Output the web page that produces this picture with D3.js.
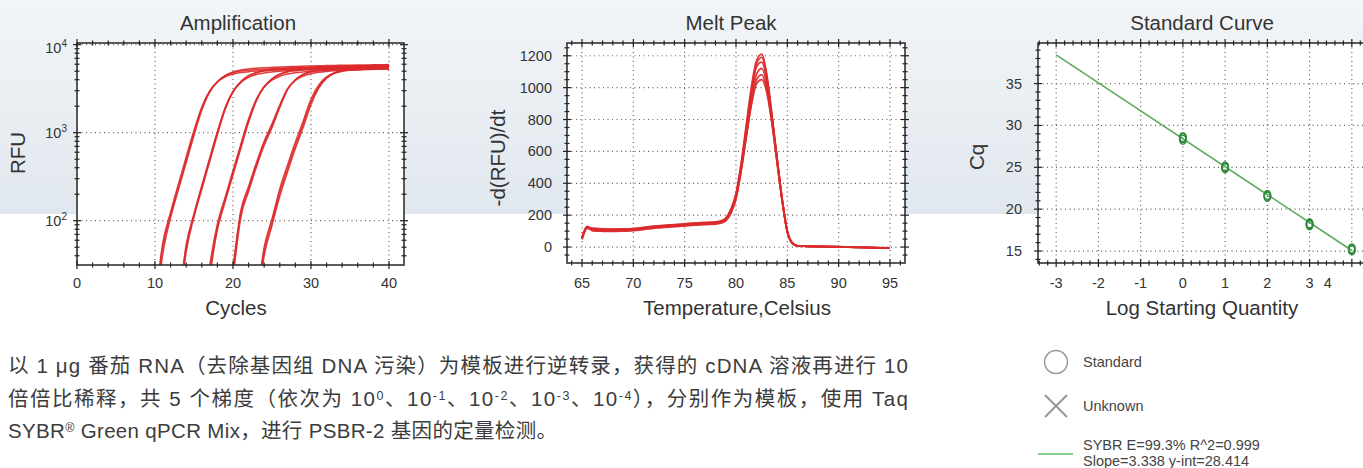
<!DOCTYPE html>
<html><head><meta charset="utf-8">
<script src="https://cdn.jsdelivr.net/npm/d3@7"></script>
<style>
body{margin:0;background:#fff;overflow:hidden}
svg{display:block;font-family:"Liberation Sans",Arial,sans-serif}
</style></head><body>
<svg id="c" width="1363" height="468"></svg>
<script>
// ---------------- DATA ----------------
// Amplification (RFU per cycle); each replicate starts at its first listed cycle
const ampStartCycles = [9, 12, 16, 19, 22];
const ampG1a = [2,10,50,115,240,490,1000,1900,2950,3800,4420,4790,5010,5130,5210,5270,5320,5370,5410,5440,5470,5500,5530,5550,5570,5590,5610,5630,5650,5660,5680,5700];
const ampG1b = [2,8,42,108,225,455,930,1800,2880,3800,4480,4900,5150,5300,5400,5470,5530,5580,5620,5660,5700,5730,5760,5790,5810,5830,5850,5870,5890,5900,5920,5940];
const ampG1c = [3,12,56,125,260,530,1060,1960,2970,3750,4300,4620,4820,4940,5020,5080,5130,5170,5210,5240,5270,5300,5320,5340,5360,5380,5400,5410,5420,5430,5440,5450];
const ampG2a = [2,10,50,115,240,490,1000,1900,2950,3800,4420,4790,5010,5130,5210,5270,5320,5370,5410,5440,5470,5500,5530,5550,5570,5590,5610,5630,5650];
const ampG2b = [2,8,44,110,228,465,950,1830,2900,3780,4450,4850,5100,5250,5350,5420,5480,5530,5580,5620,5650,5680,5710,5740,5760,5780,5800,5820,5840];
const ampG2c = [3,11,53,120,250,510,1030,1920,2920,3700,4250,4580,4780,4900,4990,5050,5100,5150,5190,5220,5250,5280,5300,5320,5340,5360,5370,5380,5390];
const ampG3a = [5,26,85,175,350,700,1380,2370,3350,4075,4570,4900,5070,5175,5250,5300,5350,5390,5420,5450,5480,5510,5530,5550,5570];
const ampG3b = [4,22,78,165,330,660,1310,2300,3320,4100,4650,5000,5220,5350,5440,5510,5570,5620,5660,5700,5730,5760,5790,5810,5830];
const ampG3c = [6,30,92,185,370,735,1430,2400,3300,3950,4380,4650,4810,4910,4980,5040,5090,5130,5170,5200,5230,5250,5270,5290,5310];
const ampG4a = [4,26,120,230,430,760,1200,2000,3150,4000,4550,4880,5050,5160,5240,5300,5350,5390,5420,5450,5480,5500];
const ampG4b = [3,22,108,215,405,720,1140,1930,3080,4000,4620,5000,5230,5370,5470,5540,5600,5650,5690,5730,5760,5790];
const ampG4c = [5,29,130,245,455,800,1260,2060,3150,3920,4400,4680,4850,4960,5040,5100,5150,5190,5220,5250,5270,5290];
const ampG5a = [3,12,50,105,230,430,780,1350,2400,3500,4300,4800,5050,5200,5290,5350,5400,5430,5460];
const ampG5b = [2,9,40,88,190,360,660,1150,2080,3200,4150,4750,5100,5300,5420,5500,5560,5600,5640];
const ampG5c = [2,10,45,96,210,395,720,1250,2250,3350,4200,4720,4980,5120,5200,5250,5290,5320,5350];
const ampXTicks = [0, 10, 20, 30, 40];
const ampYTicks = [100, 1000, 10000];

// Melt peak: -d(RFU)/dt vs temperature
const meltTemps = [65,65.5,66,67,68,69,70,71,72,73,74,75,76,77,78,78.5,79,79.5,80,80.5,81,81.5,82,82.5,83,83.5,84,84.5,85,85.5,86,87,88,89,90,91,92,93,94,95];
const melt1 = [55,125,116,112,111,112,114,122,129,134,139,144,149,152,156,162,180,235,335,525,765,1005,1170,1210,1080,830,560,300,100,25,8,5,4,3,2,0,-2,-3,-5,-7];
const melt2 = [60,120,108,105,104,106,109,116,124,129,134,139,143,147,150,156,172,222,320,505,740,975,1150,1190,1070,825,555,298,98,24,7,5,4,3,2,0,-2,-3,-5,-6];
const melt3 = [48,118,113,109,108,109,111,119,126,131,136,141,146,149,153,160,178,236,332,512,742,972,1130,1160,1050,815,550,295,97,24,7,5,4,3,1,0,-1,-3,-4,-6];
const melt4 = [62,130,102,99,98,100,103,110,118,123,128,133,137,141,144,150,165,212,302,482,708,928,1085,1120,1020,800,545,293,96,24,7,5,3,2,1,0,-2,-3,-5,-7];
const melt5 = [52,122,106,102,101,103,106,113,120,125,130,135,140,144,147,153,168,216,306,476,692,902,1050,1080,990,785,535,290,96,23,7,5,3,2,1,-1,-2,-4,-5,-7];
const melt6 = [58,128,118,114,113,114,116,124,131,136,141,146,151,154,158,164,180,228,318,488,692,892,1025,1050,970,775,530,288,95,23,6,4,3,2,1,-1,-2,-3,-5,-6];
const meltXTicks = [65, 70, 75, 80, 85, 90, 95];
const meltYTicks = [0, 200, 400, 600, 800, 1000, 1200];

// Standard curve
const stdLogQty = [0, 1, 2, 3, 4];
const stdCqA = [28.3, 24.9, 21.5, 18.1, 15.1];
const stdCqB = [28.5, 25.0, 21.7, 18.2, 15.2];
const stdCqC = [28.6, 25.1, 21.6, 18.3, 15.3];
const fitSlope = -3.338;
const fitIntercept = 28.414;
const fitLogRange = [-3, 4];
const stdXTicks = [-3, -2, -1, 0, 1, 2, 3, 4];
const stdYTicks = [15, 20, 25, 30, 35];
const legendItems = ["Standard", "Unknown"];
const fitLabelLines = ["SYBR E=99.3% R^2=0.999", "Slope=3.338 y-int=28.414"];

// Description paragraph (segments; sup = superscript)
const paraLines = [
  [{t:"以 1 μg 番茄 RNA（去除基因组 DNA 污染）为模板进行逆转录，获得的 cDNA 溶液再进行 10"}],
  [{t:"倍倍比稀释，共 5 个梯度（依次为 10"},{t:"0",sup:1},{t:"、10"},{t:"-1",sup:1},{t:"、10"},{t:"-2",sup:1},{t:"、10"},{t:"-3",sup:1},{t:"、10"},{t:"-4",sup:1},{t:"），分别作为模板，使用 Taq"}],
  [{t:"SYBR"},{t:"®",sup:1},{t:" Green qPCR Mix，进行 PSBR-2 基因的定量检测。"}]
];
const paraWidths = [900, 900, 549];

// ---------------- DRAW ----------------
const svg = d3.select("#c");
const defs = svg.append("defs");
const bg = defs.append("linearGradient").attr("id","bg").attr("x1",0).attr("y1",0).attr("x2",0).attr("y2",1);
[[0,"#f2f5f8"],[0.45,"#eaeff3"],[1,"#e0e7ee"]].forEach(s=>bg.append("stop").attr("offset",s[0]).attr("stop-color",s[1]));
svg.append("rect").attr("width",1363).attr("height",468).attr("fill","#fff");
svg.append("rect").attr("width",1363).attr("height",214).attr("fill","url(#bg)");

const TXT = "#333";
const GRID = "#6f5c5c";
const RED = "#db2a2c";

function frame(id, x, y, xt, yt, xMinor, yMinor) {
  const [x0,x1] = x.range(), [y1,y0] = y.range();
  const g = svg.append("g");
  g.append("rect").attr("x",x0).attr("y",y0).attr("width",x1-x0).attr("height",y1-y0).attr("fill","#fff");
  defs.append("clipPath").attr("id",id).append("rect").attr("x",x0).attr("y",y0).attr("width",x1-x0).attr("height",y1-y0);
  const grid = g.append("g").attr("stroke",GRID).attr("stroke-width",1.2).attr("stroke-dasharray","1,3.5").attr("clip-path",`url(#${id})`);
  xt.forEach(v=>grid.append("line").attr("x1",x(v)).attr("x2",x(v)).attr("y1",y0).attr("y2",y1));
  yt.forEach(v=>grid.append("line").attr("y1",y(v)).attr("y2",y(v)).attr("x1",x0).attr("x2",x1));
  const data = svg.append("g").attr("clip-path",`url(#${id})`);
  const top = svg.append("g");
  top.append("rect").attr("x",x0).attr("y",y0).attr("width",x1-x0).attr("height",y1-y0).attr("fill","none").attr("stroke","#333").attr("stroke-width",1.6);
  const tk = top.append("g").attr("stroke","#222").attr("stroke-width",1.2);
  const xs = xt.map(v=>[v,4]).concat(xMinor.map(v=>[v,2.5]));
  const ys = yt.map(v=>[v,4]).concat(yMinor.map(v=>[v,2.5]));
  xs.forEach(([v,l])=>{ const px=x(v); if(px<x0||px>x1) return;
    tk.append("line").attr("x1",px).attr("x2",px).attr("y1",y1-l).attr("y2",y1+l);
    tk.append("line").attr("x1",px).attr("x2",px).attr("y1",y0-l).attr("y2",y0+l); });
  ys.forEach(([v,l])=>{ const py=y(v); if(py<y0||py>y1) return;
    tk.append("line").attr("y1",py).attr("y2",py).attr("x1",x0-l).attr("x2",x0+l);
    tk.append("line").attr("y1",py).attr("y2",py).attr("x1",x1-l).attr("x2",x1+l); });
  return data;
}
function title(t, cx, y) {
  svg.append("text").attr("x",cx).attr("y",y).attr("text-anchor","middle").attr("font-size",20.5).attr("fill",TXT).text(t);
}
function vtitle(t, cx, cy) {
  svg.append("text").attr("transform",`translate(${cx},${cy}) rotate(-90)`).attr("text-anchor","middle")
    .attr("dominant-baseline","central").attr("font-size",20.5).attr("fill",TXT).text(t);
}
function xLabels(x, ticks, yb, fmt) {
  ticks.forEach(v=>svg.append("text").attr("x",x(v)+(fmt?fmt.dx(v):0)).attr("y",yb).attr("text-anchor","middle")
    .attr("font-size",14.5).attr("fill",TXT).text(v));
}
function yLabels(y, ticks, xr) {
  ticks.forEach(v=>svg.append("text").attr("x",xr).attr("y",y(v)+5).attr("text-anchor","end")
    .attr("font-size",14.5).attr("fill",TXT).text(v));
}

// ---- Amplification ----
const ax = d3.scaleLinear().domain([0, 41.93]).range([77, 404]);
const ay = d3.scaleLog().domain([31.4, 10450]).range([265, 43]);
const ampMinorY = [];
[10,100,1000].forEach(b=>[2,3,4,5,6,7,8,9].forEach(m=>ampMinorY.push(b*m)));
const ampData = frame("clipA", ax, ay, ampXTicks, ampYTicks, d3.range(2,42,2).filter(v=>v%10), ampMinorY);
const ampCurves = [
  [ampG1a,ampG1b,ampG1c],[ampG2a,ampG2b,ampG2c],[ampG3a,ampG3b,ampG3c],[ampG4a,ampG4b,ampG4c],[ampG5a,ampG5b,ampG5c]
];
const ampLine = d3.line().x(d=>ax(d[0])).y(d=>ay(Math.max(d[1],1))).curve(d3.curveMonotoneX);
ampCurves.forEach((reps,gi)=>reps.forEach(vals=>{
  const pts = vals.map((v,i)=>[ampStartCycles[gi]+i, v]);
  ampData.append("path").attr("d",ampLine(pts)).attr("fill","none").attr("stroke",RED).attr("stroke-width",1.5).attr("stroke-opacity",0.9);
}));
title("Amplification", 238, 30);
xLabels(ax, ampXTicks, 288);
ampYTicks.forEach(v=>{
  const t = svg.append("text").attr("x",67).attr("y",ay(v)+ (v===10000?8:5)).attr("text-anchor","end").attr("font-size",14.5).attr("fill",TXT);
  t.append("tspan").text("10");
  t.append("tspan").attr("font-size",10).attr("dy",-6).text(Math.round(Math.log10(v)));
});
svg.append("text").attr("x",236).attr("y",315).attr("text-anchor","middle").attr("font-size",20.5).attr("fill",TXT).text("Cycles");
vtitle("RFU", 17, 153);

// ---- Melt peak ----
const mx = d3.scaleLinear().domain([63.54, 96.46]).range([567, 905]);
const my = d3.scaleLinear().domain([-100, 1280]).range([263, 43]);
const meltData = frame("clipM", mx, my, meltXTicks, meltYTicks, d3.range(64,97,1).filter(v=>v%5), d3.range(-50,1280,50).filter(v=>v%200));
const meltLine = d3.line().x(d=>mx(d[0])).y(d=>my(d[1])).curve(d3.curveMonotoneX);
[melt1,melt2,melt3,melt4,melt5,melt6].forEach(c=>{
  meltData.append("path").attr("d",meltLine(c.map((v,i)=>[meltTemps[i],v]))).attr("fill","none").attr("stroke",RED).attr("stroke-width",1.8).attr("stroke-opacity",0.9);
});
title("Melt Peak", 731, 30);
xLabels(mx, meltXTicks, 288);
yLabels(my, meltYTicks, 552);
svg.append("text").attr("x",737).attr("y",315).attr("text-anchor","middle").attr("font-size",20.5).attr("fill",TXT).text("Temperature,Celsius");
vtitle("-d(RFU)/dt", 497, 158);

// ---- Standard curve ----
const sx = d3.scaleLinear().domain([-3.43, 4.43]).range([1038, 1370]);
const sy = d3.scaleLinear().domain([13.57, 39.85]).range([263, 43]);
const stdData = frame("clipS", sx, sy, stdXTicks, stdYTicks, d3.range(-3.4,4.45,0.2).map(v=>+v.toFixed(1)).filter(v=>Math.abs(v-Math.round(v))>0.01), d3.range(14,40,1).filter(v=>v%5));
stdData.append("line")
  .attr("x1",sx(fitLogRange[0])).attr("y1",sy(fitIntercept+fitSlope*fitLogRange[0]))
  .attr("x2",sx(fitLogRange[1])).attr("y2",sy(fitIntercept+fitSlope*fitLogRange[1]))
  .attr("stroke","#5daa5d").attr("stroke-width",1.6);
[stdCqA,stdCqB,stdCqC].forEach(rep=>rep.forEach((cq,i)=>{
  stdData.append("ellipse").attr("cx",sx(stdLogQty[i])).attr("cy",sy(cq)).attr("rx",3.2).attr("ry",4.5)
    .attr("fill","none").attr("stroke","#2f8d3f").attr("stroke-width",1.6);
}));
title("Standard Curve", 1202, 30);
xLabels(sx, stdXTicks, 288, {dx:v=>v===4?-24:0});
yLabels(sy, stdYTicks, 1022);
svg.append("text").attr("x",1202).attr("y",315).attr("text-anchor","middle").attr("font-size",20.5).attr("fill",TXT).text("Log Starting Quantity");
vtitle("Cq", 976, 157);

// ---- Legend ----
svg.append("circle").attr("cx",1056).attr("cy",362).attr("r",11.5).attr("fill","none").attr("stroke","#9a9a9a").attr("stroke-width",1.5);
const xm = svg.append("g").attr("stroke","#9a9a9a").attr("stroke-width",2.2);
xm.append("line").attr("x1",1045).attr("y1",395).attr("x2",1067).attr("y2",417);
xm.append("line").attr("x1",1067).attr("y1",395).attr("x2",1045).attr("y2",417);
legendItems.forEach((t,i)=>svg.append("text").attr("x",1083).attr("y",[367,411][i]).attr("font-size",14.5).attr("fill","#444").text(t));
svg.append("line").attr("x1",1038).attr("x2",1073).attr("y1",454).attr("y2",454).attr("stroke","#5cb85c").attr("stroke-width",1.5);
fitLabelLines.forEach((t,i)=>svg.append("text").attr("x",1083).attr("y",450+i*15.5).attr("font-size",14.5).attr("fill","#444").text(t));

// ---- Paragraph ----
paraLines.forEach((segs,li)=>{
  const t = svg.append("text").attr("x",8).attr("y",373+li*32.5).attr("font-size",20.5).attr("fill","#3c3c3c")
    .attr("font-family",'"Liberation Sans","Noto Sans CJK SC",sans-serif')
    .attr("textLength",paraWidths[li]).attr("lengthAdjust","spacing");
  segs.forEach(s=>{
    const sp = t.append("tspan").text(s.t);
    if (s.sup) sp.attr("font-size",12.5).style("baseline-shift","50%");
  });
});
</script>
</body></html>
